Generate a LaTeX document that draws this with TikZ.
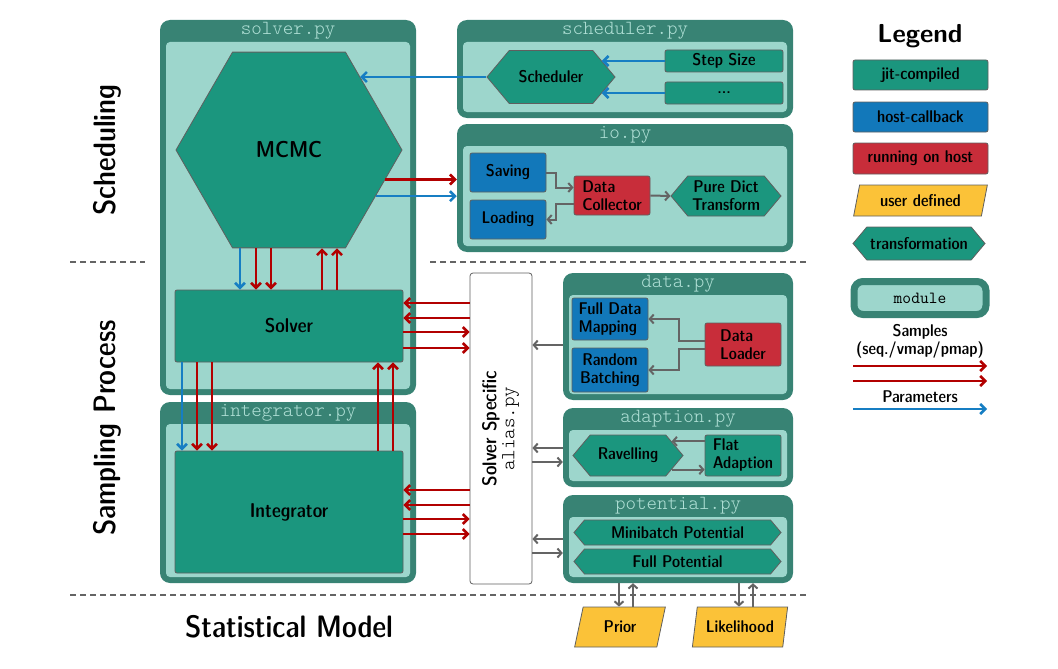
\documentclass[tikz,border=0pt]{standalone}
\usepackage{tikz}
\usetikzlibrary{positioning,arrows.meta,shapes.geometric,shapes.symbols,calc}
\definecolor{modframe}{RGB}{56,131,116}
\definecolor{modfill}{RGB}{157,214,204}
\definecolor{modtext}{RGB}{176,224,214}
\definecolor{jitgreen}{RGB}{27,150,126}
\definecolor{hostblue}{RGB}{18,120,186}
\definecolor{runred}{RGB}{200,45,58}
\definecolor{useryellow}{RGB}{251,194,56}
\definecolor{samplered}{RGB}{178,0,0}
\definecolor{parblue}{RGB}{22,126,195}
\definecolor{flowgray}{RGB}{100,100,100}
\definecolor{nodeline}{RGB}{95,95,95}
\newcommand{\nodefont}{\sffamily\fontseries{sbc}\fontsize{17}{18}\selectfont}
\newcommand{\midfont}{\sffamily\fontseries{sbc}\fontsize{20}{22}\selectfont}
\newcommand{\bigfont}{\sffamily\fontseries{sbc}\fontsize{31}{33}\selectfont}
\newcommand{\titlefont}{\normalfont\ttfamily\fontseries{l}\fontsize{20}{21}\selectfont}
% module frame: name, x1, y1, x2, y2, title
\newcommand{\pymodule}[6]{%
  \fill[modframe, rounded corners=10pt] (#2,#3) rectangle (#4,#5);
  \fill[modfill, rounded corners=4pt] (#2+6,#3+22) rectangle (#4-6,#5-6);
  \node[modtitle] (#1-title) at ({(#2+#4)/2},#3+11) {#6};
  \node[inner sep=0, minimum width=#4-#2, minimum height=#5-#3] (#1) at ({(#2+#4)/2},{(#3+#5)/2}) {};
}

\begin{document}
\begin{tikzpicture}[
  x=1pt, y=-1pt,
  box/.style={rectangle, draw=nodeline, line width=0.8pt, rounded corners=2pt,
              inner sep=1pt, align=center, font=\nodefont},
  jit/.style={box, fill=jitgreen},
  host/.style={box, fill=hostblue},
  run/.style={box, fill=runred},
  user/.style={trapezium, trapezium stretches=true, trapezium left angle=74,
               trapezium right angle=106, draw=nodeline, line width=0.8pt,
               fill=useryellow, inner sep=1pt, font=\nodefont},
  trafo/.style={signal, signal to=east and west, signal pointer angle=100,
                draw=nodeline, line width=0.8pt, fill=jitgreen, inner sep=1pt,
                align=center, font=\nodefont},
  modtitle/.style={font=\titlefont, text=modtext, inner sep=0},
  samp/.style={-{Straight Barb[length=5pt,width=10pt]}, line width=2.6pt, samplered},
  par/.style={-{Straight Barb[length=5pt,width=10pt]}, line width=2.6pt, parblue},
  flow/.style={-{Straight Barb[length=4pt,width=9pt]}, line width=2pt, flowgray},
  sepline/.style={flowgray, line width=1.6pt, dash pattern=on 6pt off 4pt}
]
\useasboundingbox (0,0) rectangle (1058,669);

% Modules
\pymodule{solver}{160}{20}{416}{395}{solver.py}
\pymodule{integrator}{160}{402}{416}{583}{integrator.py}
\pymodule{scheduler}{457}{20}{793}{118}{scheduler.py}
\pymodule{io}{457}{124}{793}{252}{io.py}
\pymodule{data}{563}{273}{793}{400}{data.py}
\pymodule{adaption}{563}{408}{793}{487}{adaption.py}
\pymodule{potential}{563}{495}{793}{583}{potential.py}

% Separators and stage labels
\coordinate (sep1a) at (70,262);
\coordinate (sep1b) at (145,262);
\coordinate (sep1c) at (430,262);
\coordinate (sep1d) at (808,262);
\coordinate (sep2a) at (70,595);
\coordinate (sep2b) at (808,595);
\draw[sepline] (sep1a) -- (sep1b);
\draw[sepline] (sep1c) -- (sep1d);
\draw[sepline] (sep2a) -- (sep2b);
\node[font=\bigfont, rotate=90] (scheduling) at (107,150) {Scheduling};
\node[font=\bigfont, rotate=90] (sampling) at (107,428) {Sampling Process};
\node[font=\bigfont] (statmodel) at (289,627) {Statistical Model};

% Nodes
\node[regular polygon, regular polygon sides=6, minimum size=226, inner sep=0,
      draw=nodeline, line width=0.8pt, fill=jitgreen,
      font=\sffamily\fontseries{sbc}\fontsize{23}{25}\selectfont] (mcmc) at (289,150) {MCMC};
\node[jit, font=\midfont, minimum width=228, minimum height=72] (solv) at (289,326) {Solver};
\node[jit, font=\midfont, minimum width=228, minimum height=122] (integ) at (289,512) {Integrator};
\node[box, fill=white, rounded corners=3pt, minimum width=62, minimum height=311] (alias)
  at (501,428.5) {\rotatebox{90}{\begin{tabular}{@{}c@{}}\midfont Solver Specific\\[0pt]\titlefont alias.py\end{tabular}}};

\node[trafo, minimum width=128, minimum height=53] (sched) at (551,77) {Scheduler};
\node[jit, minimum width=118, minimum height=22] (step) at (724,61) {Step Size};
\node[jit, minimum width=118, minimum height=22] (dots) at (724,93) {...};

\node[host, minimum width=76, minimum height=39] (saving) at (508,172.5) {Saving};
\node[host, minimum width=76, minimum height=39] (loading) at (508,219.5) {Loading};
\node[run, align=left, minimum width=76, minimum height=39] (collector) at (612,195.5) {Data\\Collector};
\node[trafo, minimum width=110, minimum height=40] (pure) at (726,196) {Pure Dict\\Transform};

\node[host, align=left, minimum width=76, minimum height=42] (fdm) at (610,319) {Full Data\\Mapping};
\node[host, minimum width=76, minimum height=44] (rb) at (610,370) {Random\\Batching};
\node[run, align=left, minimum width=76, minimum height=43] (loader) at (743,344.5) {Data\\Loader};

\node[trafo, minimum width=110, minimum height=41] (ravel) at (628,455.5) {Ravelling};
\node[jit, align=left, minimum width=76, minimum height=41] (flat) at (743,455.5) {Flat\\Adaption};

\node[trafo, minimum width=207, minimum height=25] (minipot) at (677.5,532.5) {Minibatch Potential};
\node[trafo, minimum width=207, minimum height=25] (fullpot) at (677.5,561.5) {Full Potential};

\node[user, minimum width=91, minimum height=40] (prior) at (620,627) {Prior};
\node[user, minimum width=96, minimum height=40] (lik) at (740,627) {Likelihood};

% Legend
\node[font=\sffamily\bfseries\fontsize{26}{28}\selectfont] (legend) at (920,36) {Legend};
\node[jit, minimum width=135, minimum height=30] (lg-jit) at (920.5,75) {jit-compiled};
\node[host, minimum width=135, minimum height=30] (lg-host) at (920.5,117) {host-callback};
\node[run, minimum width=135, minimum height=31] (lg-run) at (920.5,158.5) {running on host};
\node[user, minimum width=135, minimum height=31] (lg-user) at (920.5,200.5) {user defined};
\node[trafo, minimum width=132, minimum height=33] (lg-trafo) at (919,243.5) {transformation};
\node[draw=modframe, line width=7pt, fill=modfill, rounded corners=9pt, minimum width=132,
      minimum height=33, font=\ttfamily\fontsize{17}{18}\selectfont] (lg-mod) at (920,298) {module};
\node[font=\nodefont, align=center] (lg-samp) at (920,341) {Samples\\(seq./vmap/pmap)};
\node[font=\nodefont] (lg-par) at (920,397) {Parameters};
\coordinate (lg-s1a) at (853,366);
\coordinate (lg-s1b) at (987,366);
\coordinate (lg-s2a) at (853,381);
\coordinate (lg-s2b) at (987,381);
\coordinate (lg-p1a) at (853,409);
\coordinate (lg-p1b) at (987,409);
\draw[samp] (lg-s1a) -- (lg-s1b);
\draw[samp] (lg-s2a) -- (lg-s2b);
\draw[par] (lg-p1a) -- (lg-p1b);

% Arrows: scheduling
\draw[par] (step.west) -- (step.west -| sched.18);
\draw[par] (dots.west) -- (dots.west -| sched.-18);
\draw[par] (sched.west) -- (sched.west -| mcmc.46);
\draw[samp] (mcmc.-17) -- (mcmc.-17 -| io.west);
\draw[par] (mcmc.-28) -- (mcmc.-28 -| io.west);
\draw[flow] (saving.east) -- ++(10,0) |- ([yshift=8pt]collector.west);
\draw[flow] ([yshift=-8pt]collector.west) -- ++(-18,0) |- (loading.east);
\draw[flow] (collector.east) -- (pure.west);

% Arrows: mcmc, solver, integrator
\draw[par] (mcmc.south -| 240,0) -- (solv.north -| 240,0);
\draw[samp] (mcmc.south -| 256,0) -- (solv.north -| 256,0);
\draw[samp] (mcmc.south -| 271,0) -- (solv.north -| 271,0);
\draw[samp] (solv.north -| 322,0) -- (mcmc.south -| 322,0);
\draw[samp] (solv.north -| 337,0) -- (mcmc.south -| 337,0);
\draw[par] (solv.south -| 182,0) -- (integ.north -| 182,0);
\draw[samp] (solv.south -| 197,0) -- (integ.north -| 197,0);
\draw[samp] (solv.south -| 212,0) -- (integ.north -| 212,0);
\draw[samp] (integ.north -| 378,0) -- (solv.south -| 378,0);
\draw[samp] (integ.north -| 393,0) -- (solv.south -| 393,0);

% Arrows: alias
\draw[samp] (alias.west |- 0,303) -- (solv.east |- 0,303);
\draw[samp] (alias.west |- 0,318) -- (solv.east |- 0,318);
\draw[samp] (solv.east |- 0,332) -- (alias.west |- 0,332);
\draw[samp] (solv.east |- 0,348) -- (alias.west |- 0,348);
\draw[samp] (alias.west |- 0,490) -- (integ.east |- 0,490);
\draw[samp] (alias.west |- 0,505) -- (integ.east |- 0,505);
\draw[samp] (integ.east |- 0,519) -- (alias.west |- 0,519);
\draw[samp] (integ.east |- 0,534) -- (alias.west |- 0,534);
\draw[flow] (data.west |- 0,345) -- (alias.east |- 0,345);
\draw[flow] (adaption.west |- 0,448) -- (alias.east |- 0,448);
\draw[flow] (alias.east |- 0,462) -- (adaption.west |- 0,462);
\draw[flow] (potential.west |- 0,539) -- (alias.east |- 0,539);
\draw[flow] (alias.east |- 0,553) -- (potential.west |- 0,553);

% Arrows: data, adaption, model
\draw[flow] ([yshift=4pt]loader.west) -- ++(-26,0) |- (fdm.east);
\draw[flow] ([yshift=-4pt]loader.west) -- ++(-26,0) |- (rb.east);
\draw[flow] (ravel.18 -| flat.west) -- (ravel.18);
\draw[flow] (ravel.-18) -- (ravel.-18 -| flat.west);
\draw[flow] (potential.south -| 619,0) -- (prior.north -| 619,0);
\draw[flow] (prior.north -| 633,0) -- (potential.south -| 633,0);
\draw[flow] (potential.south -| 739,0) -- (lik.north -| 739,0);
\draw[flow] (lik.north -| 753,0) -- (potential.south -| 753,0);

\end{tikzpicture}
\end{document}
